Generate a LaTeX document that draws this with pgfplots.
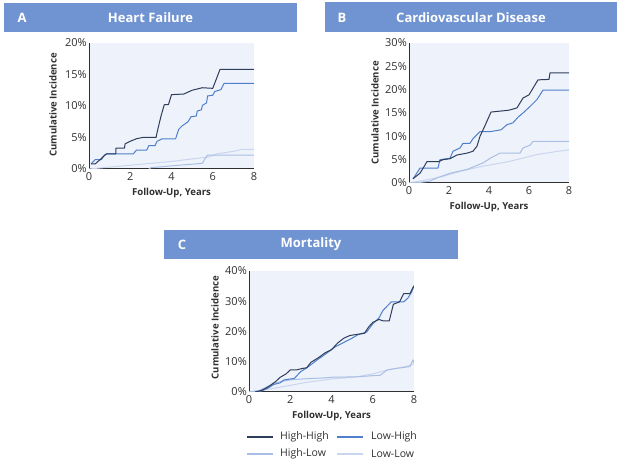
\documentclass[border=0pt]{standalone}
\usepackage{pgfplots}
\pgfplotsset{compat=1.18}
\usepackage{fontspec}
\setmainfont{Open Sans}
\definecolor{hdr}{HTML}{7093D2}
\definecolor{bgc}{HTML}{EEF2FA}
\definecolor{cHH}{HTML}{2E3D5A}
\definecolor{cLH}{HTML}{4F7FCC}
\definecolor{cHL}{HTML}{A9BEE4}
\definecolor{cLL}{HTML}{CAD6EE}
\definecolor{txt}{HTML}{303030}
\pgfplotsset{km/.style={
  scale only axis, anchor=south west,
  axis x line*=bottom, axis y line*=left,
  xmin=0, xmax=8, ymin=0, xtick={0,2,4,6,8},
  axis background/.style={fill=bgc},
  major tick length=0pt,
  tick label style={font=\fontsize{11}{12}\selectfont, text=txt},
  yticklabel style={inner sep=2pt},
  /pgf/number format/assume math mode=true,
  yticklabel={\pgfmathprintnumber{\tick}\%},
  axis line style={line width=1pt, txt},
  every axis plot/.append style={line width=1pt, line join=round},
}}
\tikzset{hd/.style={white,font=\bfseries\fontsize{13}{15}\selectfont},
  lab/.style={txt,font=\bfseries\fontsize{9.6}{11}\selectfont},
  lg/.style={txt,anchor=west,inner sep=0pt,font=\fontsize{10.5}{12}\selectfont}}
\begin{document}
\begin{tikzpicture}
\useasboundingbox (0pt,0pt) rectangle (620pt,462pt);
% headers
\fill[hdr] (4pt,430pt) rectangle (297pt,459pt);
\node[hd] at (22pt,444.5pt) {A};
\node[hd] at (150.5pt,444.5pt) {Heart Failure};
\fill[hdr] (325pt,430pt) rectangle (617pt,460pt);
\node[hd] at (342pt,444.5pt) {B};
\node[hd] at (471pt,444.5pt) {Cardiovascular Disease};
\fill[hdr] (164pt,203pt) rectangle (458pt,232pt);
\node[hd] at (182pt,217.5pt) {C};
\node[hd] at (311pt,217.5pt) {Mortality};

% Panel A
\begin{axis}[km, at={(89pt,293pt)}, width=165pt, height=126pt, ymax=20, ytick={0,5,10,15,20}]
\addplot[cLL] coordinates {(0,0)(1,0.3)(2,0.6)(3,0.9)(4,1.2)(5,1.6)(5.8,1.9)(6.2,2.4)(7.0,2.8)(7.4,3.1)(8,3.1)};
\addplot[cHL] coordinates {(2.9,0)(3.0,0.2)(4.0,0.5)(5.5,0.9)(5.6,1.5)(5.75,2.2)(8,2.2)};
\addplot[cLH] coordinates {(0.1,0.8)(0.3,1.5)(0.6,1.5)(0.75,2.2)(0.85,2.4)(2.15,2.4)(2.3,3.0)(2.8,3.0)(2.9,3.7)(3.2,3.7)(3.3,4.4)(3.55,4.8)(4.2,4.8)(4.35,6.3)(4.5,6.8)(4.8,7.5)(4.95,8.3)(5.2,8.4)(5.25,9.2)(5.45,9.4)(5.5,10.1)(5.7,10.5)(5.75,11.6)(6.0,11.7)(6.1,12.3)(6.4,12.6)(6.55,13.6)(8,13.6)};
\addplot[cHH] coordinates {(0.1,0.8)(0.3,0.8)(0.4,1.1)(0.55,1.5)(0.7,2.0)(0.85,2.4)(1.3,2.4)(1.3,3.3)(1.72,3.3)(1.75,4.0)(2.0,4.4)(2.3,4.8)(2.6,5.0)(3.25,5.0)(3.35,6.5)(3.5,8.5)(3.65,10.2)(3.85,10.2)(4.0,11.8)(4.6,11.9)(5.0,12.5)(5.5,12.9)(6.0,12.8)(6.2,14.5)(6.35,15.8)(8,15.8)};
\end{axis}
\node[lab] at (171.5pt,269pt) {Follow-Up, Years};
\node[lab,rotate=90] at (53pt,357pt) {Cumulative Incidence};

% Panel B
\begin{axis}[km, at={(409pt,279pt)}, width=160pt, height=140pt, ymax=30, ytick={0,5,10,15,20,25,30}]
\addplot[cLL] coordinates {(0,0)(0.55,0.4)(1.7,1.4)(2.55,2.5)(3.7,3.6)(5.0,4.6)(6.4,6.1)(7.3,6.7)(8,7.1)};
\addplot[cHL] coordinates {(0,0)(0.5,0.1)(1.05,0.4)(1.4,1.1)(2.05,2.1)(2.9,2.9)(3.7,4.3)(4.1,5.4)(4.55,6.4)(5.55,6.4)(5.7,7.5)(6.05,8.1)(6.2,8.9)(8,8.9)};
\addplot[cLH] coordinates {(0.2,0.9)(0.45,2.5)(0.55,3.2)(1.45,3.2)(1.55,5.0)(2.05,5.3)(2.2,6.8)(2.55,7.5)(2.7,8.5)(3.05,8.5)(3.2,9.5)(3.55,11.0)(4.05,11.0)(4.6,11.4)(4.9,12.5)(5.2,12.9)(5.45,14.1)(5.7,15.0)(6.05,16.4)(6.4,17.9)(6.7,19.9)(8,19.9)};
\addplot[cHH] coordinates {(0.2,0.9)(0.55,2.1)(0.75,3.5)(0.9,4.6)(1.5,4.6)(1.7,5.0)(2.05,5.2)(2.4,6.0)(2.9,6.4)(3.2,6.8)(3.4,7.9)(3.55,10.0)(3.8,12.3)(4.1,15.2)(5.0,15.6)(5.4,16.1)(5.7,18.2)(6.0,18.9)(6.45,22.1)(7.0,22.2)(7.05,23.6)(8,23.6)};
\end{axis}
\node[lab] at (489pt,255pt) {Follow-Up, Years};
\node[lab,rotate=90] at (375pt,349pt) {Cumulative Incidence};

% Panel C
\begin{axis}[km, at={(249pt,70pt)}, width=165pt, height=121pt, ymax=40, ytick={0,10,20,30,40}]
\addplot[cLL] coordinates {(0,0)(1,1.0)(2,2.2)(2.8,3.2)(4,4.3)(5.2,5.0)(6.0,6.0)(6.8,7.4)(7.5,8.3)(8,9.2)};
\addplot[cHL] coordinates {(0,0)(0.5,0.5)(0.8,1.5)(1.2,2.9)(1.6,3.5)(2.0,4.0)(2.8,4.4)(3.5,4.6)(4.1,4.9)(5.2,5.0)(6.0,5.4)(6.35,5.5)(6.7,7.3)(7.15,7.8)(7.8,8.4)(7.95,10.6)(8,9.6)};
\addplot[cLH] coordinates {(0.3,0)(0.6,0.3)(0.9,1.2)(1.2,2.5)(1.5,3.0)(1.7,4.0)(2.2,4.5)(2.5,6.7)(2.8,8.0)(3.0,9.0)(3.3,10.6)(3.6,12.0)(3.9,13.5)(4.2,15.0)(4.6,16.4)(5.0,17.8)(5.3,19.0)(5.7,19.8)(6.0,22.5)(6.3,24.5)(6.5,27.0)(6.9,29.8)(7.5,29.8)(7.7,31.0)(7.9,33.2)(8,35.2)};
\addplot[cHH] coordinates {(0.3,0)(0.6,0.5)(0.8,1.2)(1.0,2.0)(1.3,3.5)(1.5,4.8)(1.8,6.0)(2.0,7.3)(2.3,7.3)(2.6,7.8)(2.8,8.0)(3.0,9.8)(3.4,11.5)(3.7,13.0)(4.0,14.0)(4.3,16.2)(4.6,17.8)(4.9,18.7)(5.2,19.0)(5.6,19.4)(5.8,21.5)(6.0,23.0)(6.3,24.0)(6.5,23.5)(6.8,23.5)(7.0,29.0)(7.3,29.8)(7.5,32.5)(7.8,32.5)(7.95,34.5)(8,35)};
\end{axis}
\node[lab] at (331.5pt,46pt) {Follow-Up, Years};
\node[lab,rotate=90] at (215pt,134.5pt) {Cumulative Incidence};

% legend
\draw[cHH,line width=1.2pt] (247pt,25pt) -- (273pt,25pt);
\node[lg] at (280pt,25pt) {High-High};
\draw[cLH,line width=1.2pt] (337pt,25pt) -- (363pt,25pt);
\node[lg] at (371pt,25pt) {Low-High};
\draw[cHL,line width=1.2pt] (247pt,8pt) -- (273pt,8pt);
\node[lg] at (280pt,8pt) {High-Low};
\draw[cLL,line width=1.2pt] (337pt,8pt) -- (363pt,8pt);
\node[lg] at (371pt,8pt) {Low-Low};
\end{tikzpicture}
\end{document}
